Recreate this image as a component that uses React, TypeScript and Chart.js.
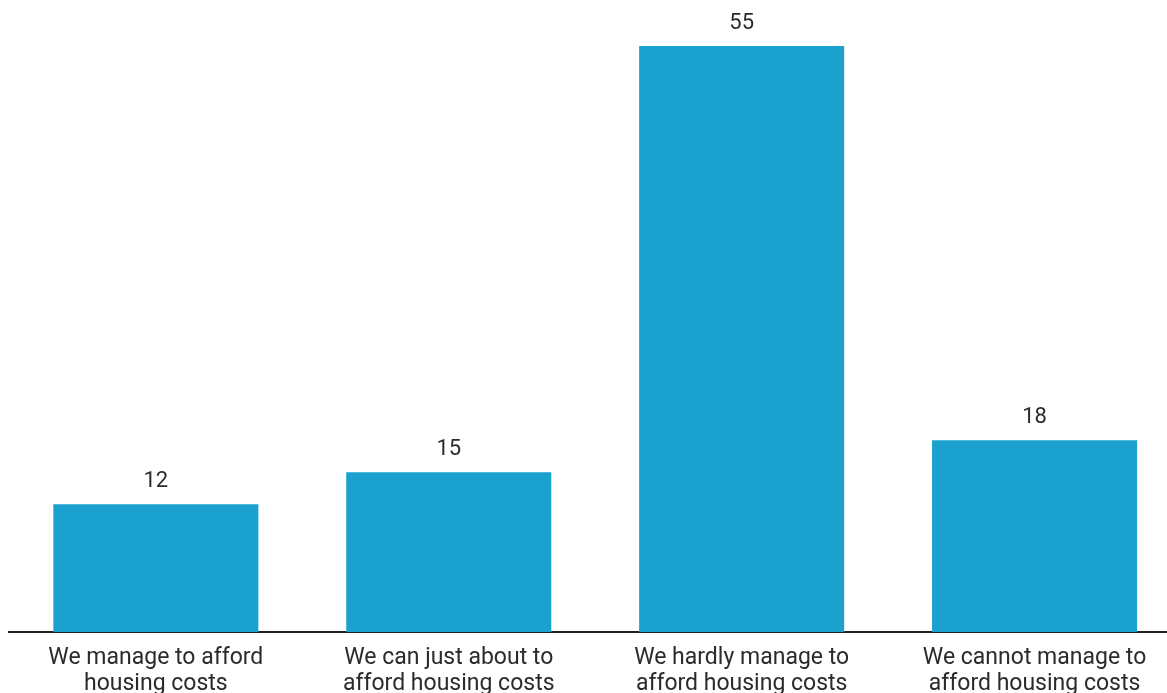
import React, { useEffect, useRef } from "react";
import { Chart, registerables } from "chart.js";

Chart.register(...registerables);

const categories: string[][] = [
  ["We manage to afford", "housing costs"],
  ["We can just about to", "afford housing costs"],
  ["We hardly manage to", "afford housing costs"],
  ["We cannot manage to", "afford housing costs"],
];
const values: number[] = [12, 15, 55, 18];

const BAR_COLOR = "#1AA1CD";
const TEXT_COLOR = "#2b2b2b";
const AXIS_COLOR = "#222222";
const FONT_FAMILY = "Roboto";

const valueLabels = {
  id: "valueLabels",
  afterDatasetsDraw(chart: any) {
    const ctx = chart.ctx;
    const meta = chart.getDatasetMeta(0);
    ctx.save();
    ctx.fillStyle = TEXT_COLOR;
    ctx.font = `22px ${FONT_FAMILY}`;
    ctx.textAlign = "center";
    ctx.textBaseline = "middle";
    meta.data.forEach((bar: any, i: number) => {
      ctx.fillText(String(values[i]), bar.x, bar.y - 23);
    });
    ctx.restore();
  },
};

export default function App() {
  const ref = useRef<HTMLCanvasElement | null>(null);
  useEffect(() => {
    if (!ref.current) return;
    const chart = new Chart(ref.current, {
      type: "bar",
      data: {
        labels: categories,
        datasets: [
          {
            data: values,
            backgroundColor: BAR_COLOR,
            barPercentage: 0.7,
            categoryPercentage: 1,
          },
        ],
      },
      options: {
        animation: false,
        responsive: false,
        maintainAspectRatio: false,
        layout: { padding: { top: 38, left: 1.4, right: 0, bottom: 0 } },
        plugins: { legend: { display: false }, tooltip: { enabled: false } },
        scales: {
          y: { display: false, min: 0, max: 55 },
          x: {
            grid: { display: false, drawTicks: false },
            border: { display: true, color: AXIS_COLOR, width: 2 },
            ticks: {
              color: TEXT_COLOR,
              font: { family: FONT_FAMILY, size: 23, lineHeight: 1.13 },
              padding: 13,
              maxRotation: 0,
              autoSkip: false,
            },
          },
        },
      },
      plugins: [valueLabels],
    });
    return () => chart.destroy();
  }, []);
  return (
    <div
      style={{
        position: "fixed",
        left: 0,
        top: 0,
        width: 1167,
        height: 693,
        overflow: "hidden",
        background: "#ffffff",
      }}
    >
      <canvas
        ref={ref}
        width={1173}
        height={702}
        style={{ display: "block", position: "absolute", left: 8, top: 8 }}
      />
    </div>
  );
}
